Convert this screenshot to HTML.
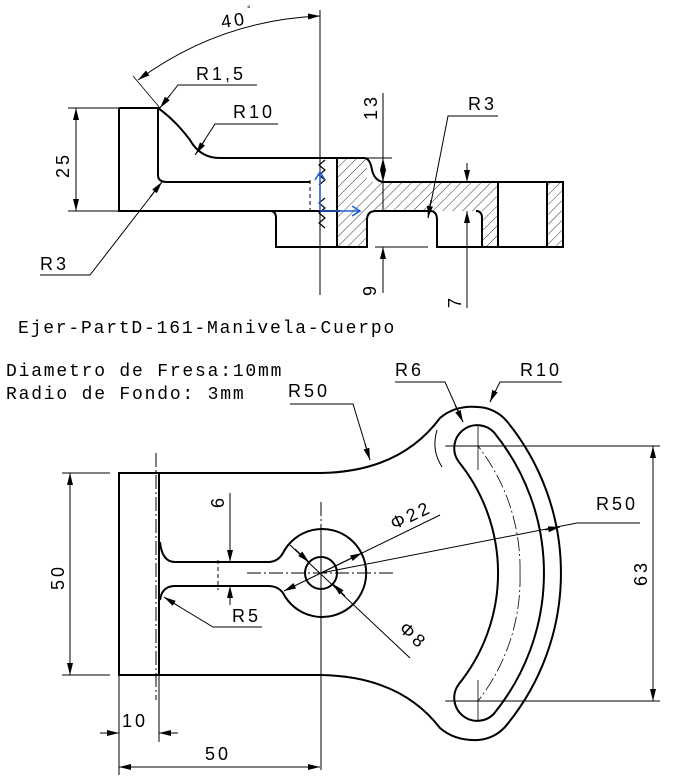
<!DOCTYPE html>
<html><head><meta charset="utf-8"><style>
html,body{margin:0;padding:0;background:#fff}
svg{display:block}
text{font-family:"Liberation Sans",sans-serif;font-size:18px;fill:#000;letter-spacing:3px}
.m{font-family:"Liberation Mono",monospace;font-size:18px;letter-spacing:1.8px}
</style></head><body>
<svg width="683" height="776" viewBox="0 0 683 776" xmlns="http://www.w3.org/2000/svg">
<defs>
<marker id="a" viewBox="0 0 12 6" refX="12" refY="3" markerWidth="12" markerHeight="6" markerUnits="userSpaceOnUse" orient="auto-start-reverse"><path d="M0,0L12,3L0,6z" fill="#000"/></marker>
<pattern id="h" width="7" height="7" patternUnits="userSpaceOnUse" patternTransform="rotate(45)"><line x1="0" y1="0" x2="0" y2="7" stroke="#000" stroke-width="0.8"/></pattern>
</defs>
<g fill="none" stroke="#000">
<g fill="url(#h)" stroke="none">
<rect x="337" y="158" width="30" height="89"/>
<rect x="367" y="182" width="131" height="29"/>
<rect x="482" y="211" width="16" height="36"/>
<rect x="547" y="182" width="16" height="65"/>
</g>
<g stroke-width="2">
<path d="M119,108H158V175Q158,182 167,182H310"/>
<path d="M119,108V211H340"/>
<path d="M158,108Q175,120 190,140Q200,158 220,158H364Q370,158 372,170Q375,182 385,182H563V247H437V220Q437,211 430,211H376Q367,211 367,220V247H276V218Q276,211 270,211"/>
<path d="M337,158V247"/>
<path d="M476,211Q482,211 482,218V247"/>
<path d="M498,182V247M547,182V247"/>
</g>
<path d="M320,10V295" stroke-width="1"/>
<path d="M325,160l-6,5 6,5 -6,5 6,5 -6,5 M325,198l-6,5 6,5 -6,5 6,5 -6,5 6,5" stroke-width="1.2"/>
<path d="M310,180V211" stroke-dasharray="4,3"/>
<path d="M320,211H360M352,206L360,211 352,216M320,211V172M315,180L320,172 325,180" stroke="#2060d0" stroke-width="1.6"/>
<path d="M68,108H119M68,211H119"/>
<path d="M76,108V211" marker-start="url(#a)" marker-end="url(#a)"/>
<path d="M383,93V158" /><path d="M383,182V158" marker-end="url(#a)"/><path d="M383,158V182" marker-end="url(#a)"/>
<path d="M383,182V211"/>
<path d="M340,158H392"/>
<path d="M375,247H428"/>
<path d="M383,293V247" marker-end="url(#a)"/>
<path d="M467,163V182" marker-end="url(#a)"/><path d="M467,308V211" marker-end="url(#a)"/>
<path d="M498,116H448L428,218" /><path d="M431,200L428,218" marker-end="url(#a)"/>
<path d="M257,85H178L160,108" /><path d="M170,95L160,108" marker-end="url(#a)"/>
<path d="M278,124H215L195,155" /><path d="M205,140L196,154" marker-end="url(#a)"/>
<path d="M40,275H90L162,182"/><path d="M150,197L162,182" marker-end="url(#a)"/>
<path d="M160,108L133,76" stroke-width="0.8"/>
<path d="M138,80Q220,20 320,16" marker-start="url(#a)" marker-end="url(#a)"/>
<g stroke-width="2">
<path d="M320,473H119V675H320"/>
<path d="M159,473V675"/>
<path d="M320,473Q400,472 440,418Q455,405 478,407A40,40 0 0 1 507.5,422A240,240 0 0 1 507.5,724A40,40 0 0 1 478,740Q455,741 440,728Q400,676 320,675"/>
<path d="M458.6,461.6A23,23 0 0 1 494.3,432.7A223,223 0 0 1 494.3,713.3A23,23 0 0 1 458.6,684.4A177,177 0 0 0 458.6,461.6Z"/>
<circle cx="321" cy="573" r="16"/>
<path d="M283,553A44,44 0 1 1 283,593Q278,586 268,586H175Q162,586 160,600M283,553Q278,562 268,562H175Q162,562 160,542"/>
</g>
<path d="M437,430Q431,450 442,467" stroke-width="1"/>
<path d="M156,453V700" stroke-dasharray="14,3,2,3"/>
<path d="M247,573H395M321,502V530" stroke-dasharray="14,3,2,3"/>
<path d="M321,530V770"/>
<path d="M520,573A199,199 0 0 0 478,446M520,573A199,199 0 0 1 478,701" stroke-dasharray="14,3,2,3" stroke-width="0.8"/>
<path d="M478,425V470M478,680V720M445,446H470M445,701H470" stroke-width="0.8"/>
<path d="M218,560V590" stroke-dasharray="4,3"/>
<path d="M230,493V562" marker-end="url(#a)"/><path d="M230,605V586" marker-end="url(#a)"/>
<path d="M262,627H213L165,598"/><path d="M180,607L164,597" marker-end="url(#a)"/>
<path d="M440,515L321,573"/><path d="M321,573L362,553" marker-end="url(#a)"/><path d="M321,573L284,591" marker-end="url(#a)"/>
<path d="M290,545L410,658"/><path d="M295,549L309,562" marker-end="url(#a)"/><path d="M345,596L333,584" marker-end="url(#a)"/>
<path d="M640,523H577L321,573"/><path d="M560,527L545,530" marker-start="url(#a)"/>
<path d="M446,446H660M446,701H660"/>
<path d="M653,446V701" marker-start="url(#a)" marker-end="url(#a)"/>
<path d="M395,382H445L463,422"/><path d="M455,405L463,422" marker-end="url(#a)"/>
<path d="M562,382H500L490,402"/><path d="M495,391L490,402" marker-end="url(#a)"/>
<path d="M290,404H353L370,460"/><path d="M365,444L370,460" marker-end="url(#a)"/>
<path d="M62,473H110M62,675H110"/>
<path d="M70,473V675" marker-start="url(#a)" marker-end="url(#a)"/>
<path d="M119,675V775M159,675V742"/>
<path d="M100,733H119" marker-end="url(#a)"/><path d="M178,733H159" marker-end="url(#a)"/>
<path d="M119,767H320" marker-start="url(#a)" marker-end="url(#a)"/>
</g>
<text x="222" y="28" transform="rotate(-8 222 28)">40</text><text x="247" y="12" style="font-size:9px">°</text>
<text x="196" y="80">R1,5</text>
<text x="233" y="118">R10</text>
<text x="40" y="270">R3</text>
<text x="468" y="110">R3</text>
<text transform="translate(69,178) rotate(-90)">25</text>
<text transform="translate(377,120) rotate(-90)">13</text>
<text transform="translate(376,296) rotate(-90)">9</text>
<text transform="translate(461,308) rotate(-90)">7</text>
<text class="m" x="18" y="333">Ejer-PartD-161-Manivela-Cuerpo</text>
<text class="m" x="6" y="376">Diametro de Fresa:10mm</text>
<text class="m" x="6" y="399">Radio de Fondo: 3mm</text>
<text x="288" y="397">R50</text>
<text x="395" y="376">R6</text>
<text x="520" y="376">R10</text>
<text x="596" y="510">R50</text>
<text x="232" y="622">R5</text>
<text transform="translate(224,508) rotate(-90)">6</text>
<text transform="translate(394,530) rotate(-25)">Φ22</text>
<text transform="translate(398,630) rotate(42)">Φ8</text>
<text transform="translate(647,586) rotate(-90)">63</text>
<text transform="translate(64,590) rotate(-90)">50</text>
<text x="122" y="727">10</text>
<text x="205" y="760">50</text>
</svg>
</body></html>
